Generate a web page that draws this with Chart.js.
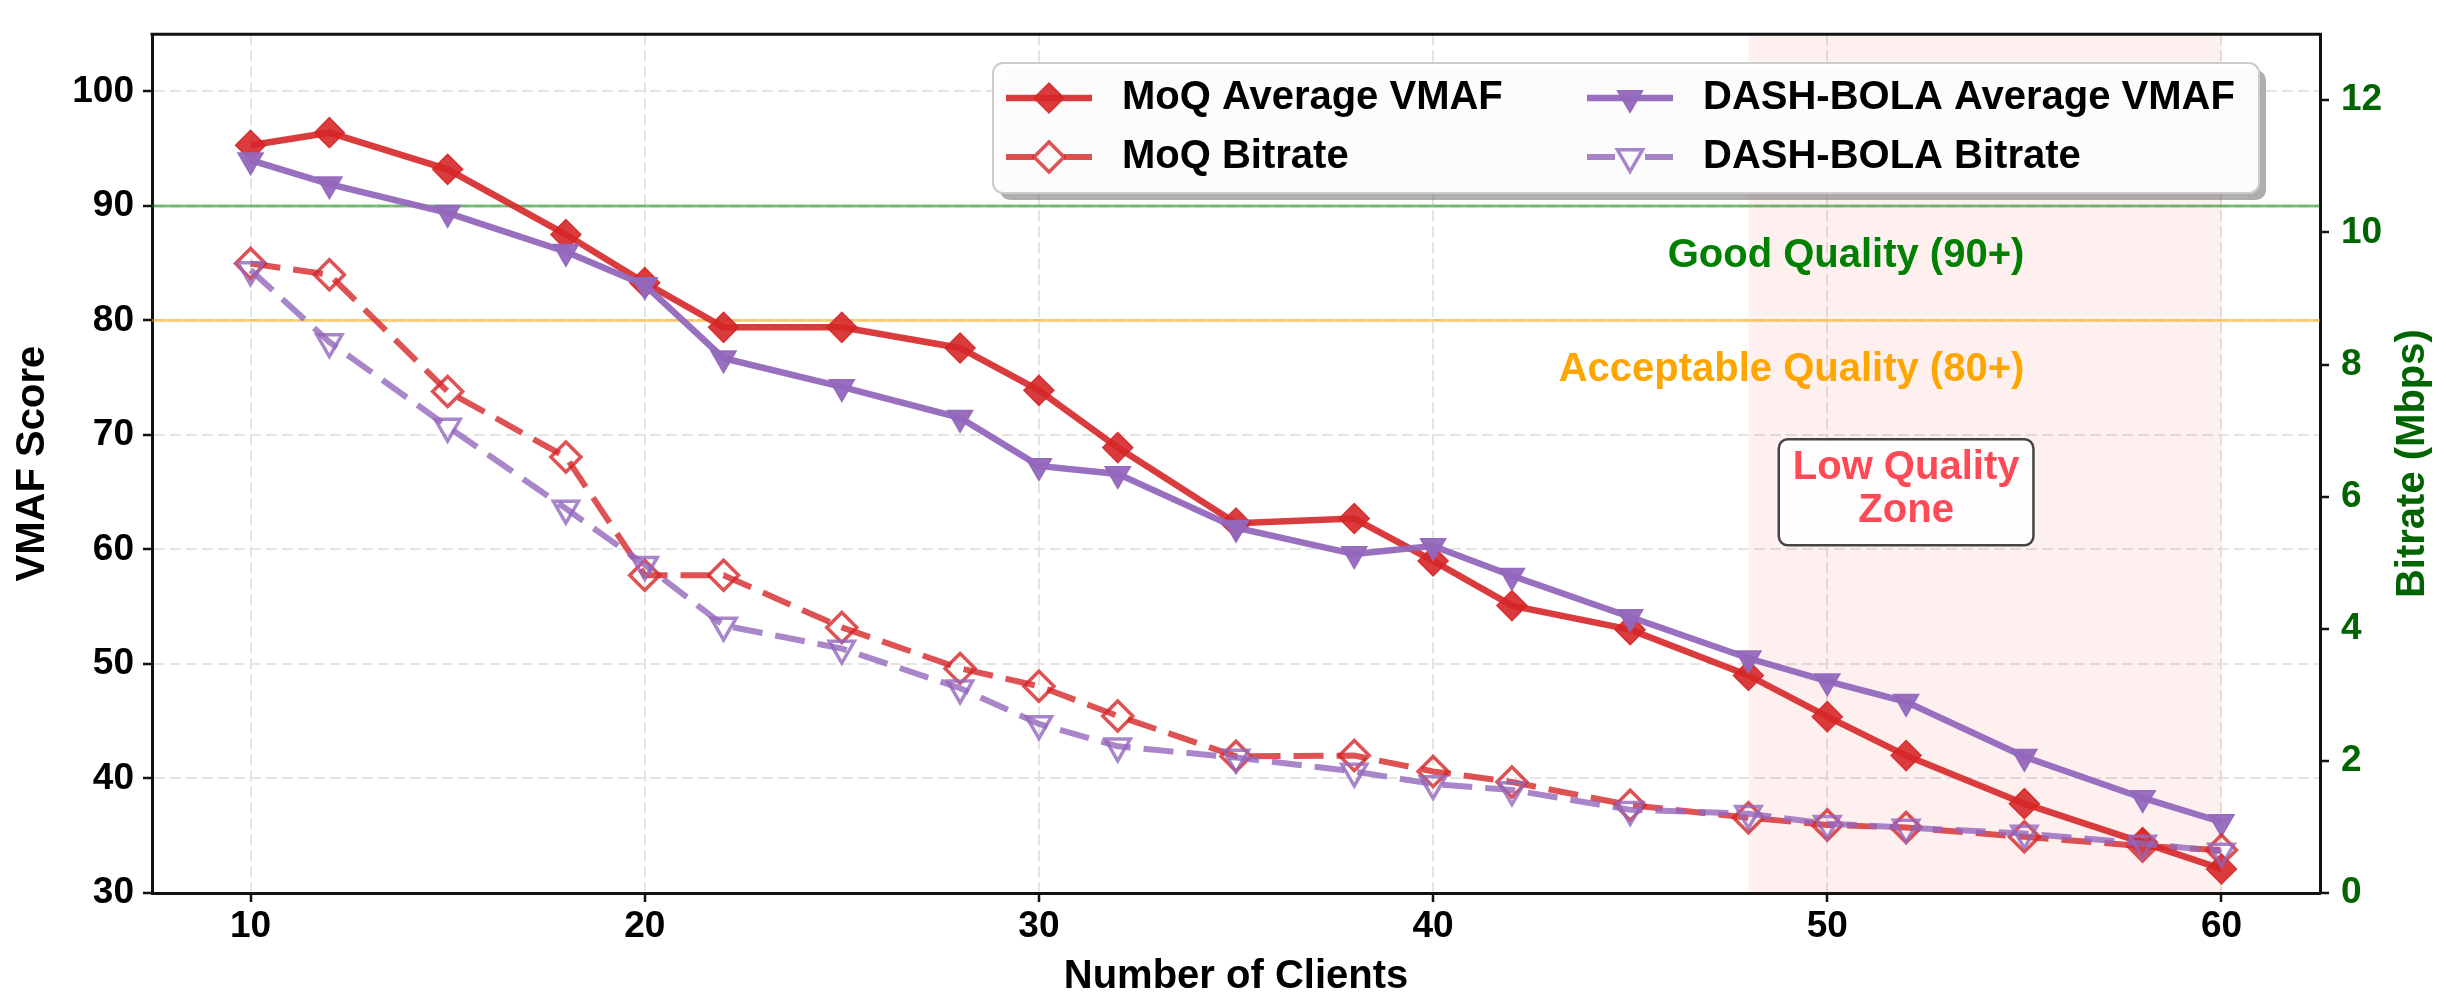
<!DOCTYPE html>
<html>
<head>
<meta charset="utf-8">
<script src="https://cdn.jsdelivr.net/npm/chart.js@4.4.1/dist/chart.umd.min.js"></script>
<style>
  html, body { margin: 0; padding: 0; background: #fff; }
  #wrap { width: 2446px; height: 1002px; }
</style>
</head>
<body>
<div id="wrap"><canvas id="chart" width="2446" height="1002"></canvas></div>
<script>
// data
const clients = [10, 12, 15, 18, 20, 22, 25, 28, 30, 32, 35, 38, 40, 42, 45, 48, 50, 52, 55, 58, 60];
const moqVmaf = [95.3, 96.4, 93.2, 87.5, 83.3, 79.4, 79.4, 77.6, 73.9, 68.9, 62.3, 62.7, 59.0, 55.1, 53.0, 49.0, 45.4, 42.0, 37.8, 34.4, 32.1];
const dashVmaf = [94.0, 91.9, 89.4, 86.0, 83.1, 76.7, 74.2, 71.5, 67.3, 66.6, 61.9, 59.6, 60.3, 57.7, 54.1, 50.5, 48.5, 46.7, 41.9, 38.3, 36.2];
const moqBitrate = [9.53, 9.36, 7.59, 6.60, 4.81, 4.81, 4.02, 3.40, 3.13, 2.68, 2.07, 2.08, 1.84, 1.68, 1.33, 1.14, 1.03, 0.99, 0.85, 0.71, 0.65];
const dashBitrate = [9.43, 8.34, 7.06, 5.82, 4.97, 4.05, 3.70, 3.10, 2.56, 2.22, 2.05, 1.84, 1.65, 1.56, 1.26, 1.20, 1.05, 0.99, 0.90, 0.75, 0.63];

const xTicks = [10, 20, 30, 40, 50, 60];
const vmafTicks = [30, 40, 50, 60, 70, 80, 90, 100];
const bitrateTicks = [0, 2, 4, 6, 8, 10, 12];

// reference lines / zone
const goodLevel = 90;
const okLevel = 80;
const lowZone = [48, 60];

const FONT = "'Liberation Sans', Arial, Helvetica, sans-serif";
const RED = 'rgba(214, 39, 40, 0.9)';
const RED_L = 'rgba(214, 39, 40, 0.8)';
const PURPLE = 'rgba(148, 103, 189, 0.95)';
const PURPLE_L = 'rgba(148, 103, 189, 0.8)';

function pts(ys) {
  return clients.map((c, i) => ({ x: c, y: ys[i] }));
}

// shaded zone + threshold lines, under the data
const backdrop = {
  id: 'backdrop',
  beforeDatasetsDraw(chart) {
    const { ctx, chartArea: a, scales: { x, y } } = chart;
    ctx.save();
    const x0 = x.getPixelForValue(lowZone[0]);
    const x1 = x.getPixelForValue(lowZone[1]);
    ctx.fillStyle = 'rgba(255, 0, 0, 0.06)';
    ctx.fillRect(x0, a.top, x1 - x0, a.bottom - a.top);

    ctx.lineWidth = 3;
    ctx.strokeStyle = 'rgba(0, 128, 0, 0.5)';
    let py = y.getPixelForValue(goodLevel);
    ctx.beginPath(); ctx.moveTo(a.left, py); ctx.lineTo(a.right, py); ctx.stroke();
    ctx.strokeStyle = 'rgba(255, 165, 0, 0.5)';
    py = y.getPixelForValue(okLevel);
    ctx.beginPath(); ctx.moveTo(a.left, py); ctx.lineTo(a.right, py); ctx.stroke();
    ctx.restore();
  }
};

function roundRect(ctx, x, y, w, h, r) {
  ctx.beginPath();
  ctx.moveTo(x + r, y);
  ctx.lineTo(x + w - r, y);
  ctx.arcTo(x + w, y, x + w, y + r, r);
  ctx.lineTo(x + w, y + h - r);
  ctx.arcTo(x + w, y + h, x + w - r, y + h, r);
  ctx.lineTo(x + r, y + h);
  ctx.arcTo(x, y + h, x, y + h - r, r);
  ctx.lineTo(x, y + r);
  ctx.arcTo(x, y, x + r, y, r);
  ctx.closePath();
}

function drawMarker(ctx, style, x, y, r, fill, stroke, lw) {
  ctx.beginPath();
  if (style === 'rectRot') {
    ctx.moveTo(x - r, y); ctx.lineTo(x, y - r); ctx.lineTo(x + r, y); ctx.lineTo(x, y + r);
  } else {
    ctx.moveTo(x, y + r); ctx.lineTo(x - 0.866 * r, y - 0.5 * r); ctx.lineTo(x + 0.866 * r, y - 0.5 * r);
  }
  ctx.closePath();
  if (fill) { ctx.fillStyle = fill; ctx.fill(); }
  ctx.lineWidth = lw;
  ctx.strokeStyle = stroke;
  ctx.stroke();
}

// texts, zone label, top spine, right title and legend
const overlay = {
  id: 'overlay',
  afterDatasetsDraw(chart) {
    const { ctx, chartArea: a, scales: { x, y } } = chart;
    ctx.save();
    // top spine
    ctx.strokeStyle = '#111';
    ctx.lineWidth = 3;
    ctx.beginPath(); ctx.moveTo(a.left - 1.5, a.top); ctx.lineTo(a.right + 1.5, a.top); ctx.stroke();

    ctx.font = 'bold 40px ' + FONT;
    ctx.textBaseline = 'middle';
    ctx.textAlign = 'right';
    ctx.fillStyle = 'green';
    ctx.fillText('Good Quality (90+)', x.getPixelForValue(55), y.getPixelForValue(85.6));
    ctx.fillStyle = 'orange';
    ctx.fillText('Acceptable Quality (80+)', x.getPixelForValue(55), y.getPixelForValue(75.7));

    // low quality zone label
    const cx = x.getPixelForValue(52), cy = y.getPixelForValue(65);
    const lines = ['Low Quality', 'Zone'];
    const bw = Math.max(...lines.map(t => ctx.measureText(t).width)) + 28;
    const bh = 106;
    roundRect(ctx, cx - bw / 2, cy - bh / 2, bw, bh, 9);
    ctx.fillStyle = 'rgba(255, 255, 255, 0.85)';
    ctx.fill();
    ctx.strokeStyle = '#444';
    ctx.lineWidth = 2.5;
    ctx.stroke();
    ctx.textAlign = 'center';
    ctx.fillStyle = '#ff4a55';
    ctx.fillText(lines[0], cx, cy - 24);
    ctx.fillText(lines[1], cx, cy + 19);

    // right axis title, reading bottom to top
    ctx.translate(chart.width - 33, (a.top + a.bottom) / 2);
    ctx.rotate(-Math.PI / 2);
    ctx.fillStyle = 'darkgreen';
    ctx.fillText('Bitrate (Mbps)', 0, 0);
    ctx.restore();
  },
  afterDraw(chart) {
    const { ctx } = chart;
    const ds = chart.data.datasets;
    const box = { x: 993, y: 63, w: 1266, h: 130 };
    ctx.save();
    roundRect(ctx, box.x + 7, box.y + 7, box.w, box.h, 10);
    ctx.fillStyle = 'rgba(120, 120, 120, 0.6)';
    ctx.fill();
    roundRect(ctx, box.x, box.y, box.w, box.h, 10);
    ctx.fillStyle = 'rgba(255, 255, 255, 0.97)';
    ctx.fill();
    ctx.strokeStyle = '#cccccc';
    ctx.lineWidth = 2;
    ctx.stroke();

    const slots = [
      { i: 0, hx: 1006, ty: 98 }, { i: 1, hx: 1006, ty: 157 },
      { i: 2, hx: 1587, ty: 98 }, { i: 3, hx: 1587, ty: 157 }
    ];
    ctx.font = 'bold 40px ' + FONT;
    ctx.textBaseline = 'middle';
    ctx.textAlign = 'left';
    slots.forEach(s => {
      const d = ds[s.i];
      ctx.strokeStyle = d.borderColor;
      ctx.lineWidth = d.borderWidth;
      ctx.setLineDash(d.borderDash && d.borderDash.length ? [28, 30] : []);
      ctx.beginPath(); ctx.moveTo(s.hx, s.ty); ctx.lineTo(s.hx + 86, s.ty); ctx.stroke();
      ctx.setLineDash([]);
      const fill = d.pointBackgroundColor === 'rgba(0,0,0,0)' ? null : d.pointBackgroundColor;
      drawMarker(ctx, d.pointStyle, s.hx + 43, s.ty, d.pointRadius, fill, d.pointBorderColor, d.pointBorderWidth);
      ctx.fillStyle = '#000';
      ctx.fillText(d.label, s.hx + 116, s.ty);
    });
    ctx.restore();
  }
};

const gridOpts = { color: '#e4e4e4', lineWidth: 2, tickLength: 9, tickWidth: 2.5, tickColor: '#111' };
const borderOpts = { display: true, color: '#111', width: 3, dash: [11, 5] };

new Chart(document.getElementById('chart'), {
  type: 'line',
  data: {
    datasets: [
      {
        label: 'MoQ Average VMAF', data: pts(moqVmaf), yAxisID: 'y', order: 3,
        borderColor: RED, borderWidth: 6.5, borderDash: [],
        pointStyle: 'rectRot', pointRadius: 15, pointBackgroundColor: RED,
        pointBorderColor: RED, pointBorderWidth: 1.5
      },
      {
        label: 'MoQ Bitrate', data: pts(moqBitrate), yAxisID: 'y2', order: 1,
        borderColor: RED_L, borderWidth: 6, borderDash: [30, 13],
        pointStyle: 'rectRot', pointRadius: 15, pointBackgroundColor: 'rgba(0,0,0,0)',
        pointBorderColor: RED_L, pointBorderWidth: 3.5
      },
      {
        label: 'DASH-BOLA Average VMAF', data: pts(dashVmaf), yAxisID: 'y', order: 2,
        borderColor: PURPLE, borderWidth: 6.5, borderDash: [],
        pointStyle: 'triangle', pointRotation: 180, pointRadius: 14.5, pointBackgroundColor: PURPLE,
        pointBorderColor: PURPLE, pointBorderWidth: 1.5
      },
      {
        label: 'DASH-BOLA Bitrate', data: pts(dashBitrate), yAxisID: 'y2', order: 0,
        borderColor: PURPLE_L, borderWidth: 6, borderDash: [30, 13],
        pointStyle: 'triangle', pointRotation: 180, pointRadius: 14.5, pointBackgroundColor: 'rgba(0,0,0,0)',
        pointBorderColor: PURPLE_L, pointBorderWidth: 3.5
      }
    ]
  },
  options: {
    responsive: false,
    animation: false,
    devicePixelRatio: 1,
    layout: { padding: { top: 27, left: 0, right: 0, bottom: 0 } },
    elements: { line: { tension: 0 } },
    plugins: { legend: { display: false }, tooltip: { enabled: false } },
    scales: {
      x: {
        type: 'linear', min: 7.5, max: 62.5,
        afterBuildTicks: s => { s.ticks = xTicks.map(v => ({ value: v })); },
        afterFit: s => { s.height = 109; },
        grid: gridOpts, border: borderOpts,
        ticks: { color: '#000', font: { family: FONT, size: 37, weight: 'bold' }, padding: 3 },
        title: { display: true, text: 'Number of Clients', color: '#000',
          font: { family: FONT, size: 40, weight: 'bold' }, padding: { top: 0, bottom: 1 } }
      },
      y: {
        type: 'linear', position: 'left', min: 30, max: 105,
        afterBuildTicks: s => { s.ticks = vmafTicks.map(v => ({ value: v })); },
        afterFit: s => { s.width = 152; },
        grid: gridOpts, border: borderOpts,
        ticks: { color: '#000', font: { family: FONT, size: 37, weight: 'bold' }, padding: 9 },
        title: { display: true, text: 'VMAF Score', color: '#000',
          font: { family: FONT, size: 40, weight: 'bold' }, padding: { top: 9, bottom: 0 } }
      },
      y2: {
        type: 'linear', position: 'right', min: 0, max: 13,
        afterBuildTicks: s => { s.ticks = bitrateTicks.map(v => ({ value: v })); },
        afterFit: s => { s.width = 126; },
        grid: Object.assign({}, gridOpts, { drawOnChartArea: false }), border: borderOpts,
        ticks: { color: 'darkgreen', font: { family: FONT, size: 37, weight: 'bold' }, padding: 12 },
        title: { display: false }
      }
    }
  },
  plugins: [backdrop, overlay]
});
</script>
</body>
</html>
